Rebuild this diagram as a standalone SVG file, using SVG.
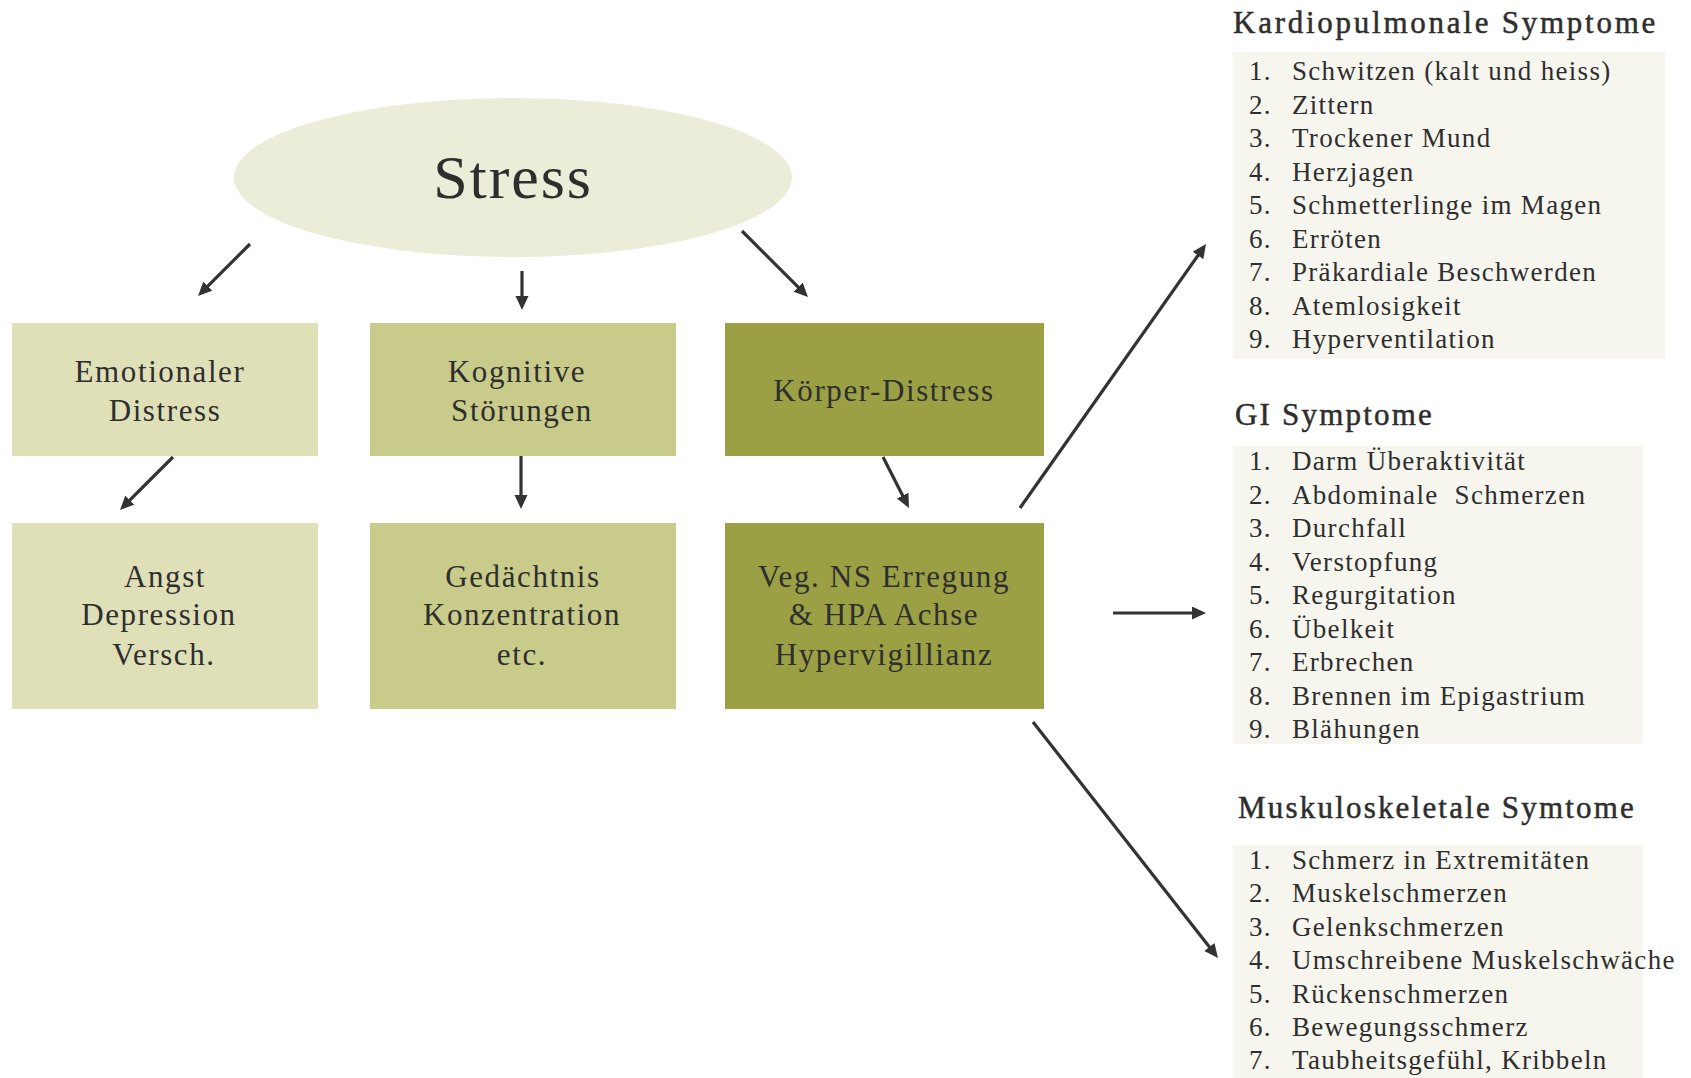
<svg xmlns="http://www.w3.org/2000/svg" width="1691" height="1078" viewBox="0 0 1691 1078">
<defs>
<style>
text{font-family:"Liberation Serif","Times New Roman",serif;fill:#2e2e2e}
.bx{font-size:31px;letter-spacing:1.6px;text-anchor:middle}
.ttl{font-size:31px;letter-spacing:2.2px;stroke:#2e2e2e;stroke-width:0.5px}
.it{font-size:27px;letter-spacing:1.3px}
.c1{fill:#dfe0b8}.c2{fill:#c9cb8a}.c3{fill:#9ba044}.lb{fill:#f6f6ee}
.ar{stroke:#333;stroke-width:3.2;fill:none;marker-end:url(#ah)}
</style>
<marker id="ah" markerUnits="userSpaceOnUse" markerWidth="16" markerHeight="14" refX="3" refY="6.5" orient="auto">
<path d="M0,0 L14,6.5 L0,13 Z" fill="#333"/>
</marker>
</defs>
<rect width="1691" height="1078" fill="#fff"/>
<g id="stress">
<ellipse cx="513" cy="177.5" rx="279" ry="79.5" fill="#ebedd8"/>
<text x="513" y="198" style="font-size:62px;letter-spacing:1.9px;text-anchor:middle">Stress</text>
</g>
<g id="emotionaler">
<rect class="c1" x="12" y="323" width="306" height="133"/>
<text class="bx" x="160" y="382">Emotionaler</text>
<text class="bx" x="165" y="421">Distress</text>
</g>
<g id="kognitive">
<rect class="c2" x="370" y="323" width="306" height="133"/>
<text class="bx" x="517" y="382">Kognitive</text>
<text class="bx" x="522" y="421">Störungen</text>
</g>
<g id="koerper">
<rect class="c3" x="725" y="323" width="319" height="133"/>
<text class="bx" x="884" y="401">Körper-Distress</text>
</g>
<g id="angst">
<rect class="c1" x="12" y="523" width="306" height="186"/>
<text class="bx" x="165" y="587">Angst</text>
<text class="bx" x="159" y="625">Depression</text>
<text class="bx" x="164" y="665">Versch.</text>
</g>
<g id="gedaechtnis">
<rect class="c2" x="370" y="523" width="306" height="186"/>
<text class="bx" x="523" y="587">Gedächtnis</text>
<text class="bx" x="522" y="625">Konzentration</text>
<text class="bx" x="522" y="665">etc.</text>
</g>
<g id="veg">
<rect class="c3" x="725" y="523" width="319" height="186"/>
<text class="bx" x="884" y="587">Veg. NS Erregung</text>
<text class="bx" x="884" y="625">&amp; HPA Achse</text>
<text class="bx" x="884" y="665">Hypervigillianz</text>
</g>
<g id="kardio">
<text class="ttl" x="1233" y="33" style="letter-spacing:2.75px">Kardiopulmonale Symptome</text>
<rect class="lb" x="1233" y="52" width="432" height="307"/>
<g class="it">
<text x="1249" y="80">1.</text><text x="1292" y="80">Schwitzen (kalt und heiss)</text>
<text x="1249" y="113.5">2.</text><text x="1292" y="113.5">Zittern</text>
<text x="1249" y="147">3.</text><text x="1292" y="147">Trockener Mund</text>
<text x="1249" y="180.5">4.</text><text x="1292" y="180.5">Herzjagen</text>
<text x="1249" y="214">5.</text><text x="1292" y="214">Schmetterlinge im Magen</text>
<text x="1249" y="247.5">6.</text><text x="1292" y="247.5">Erröten</text>
<text x="1249" y="281">7.</text><text x="1292" y="281">Präkardiale Beschwerden</text>
<text x="1249" y="314.5">8.</text><text x="1292" y="314.5">Atemlosigkeit</text>
<text x="1249" y="348">9.</text><text x="1292" y="348">Hyperventilation</text>
</g>
</g>
<g id="gi">
<text class="ttl" x="1235" y="425">GI Symptome</text>
<rect class="lb" x="1233" y="446" width="410" height="298"/>
<g class="it">
<text x="1249" y="470">1.</text><text x="1292" y="470">Darm Überaktivität</text>
<text x="1249" y="503.5">2.</text><text x="1292" y="503.5" xml:space="preserve">Abdominale  Schmerzen</text>
<text x="1249" y="537">3.</text><text x="1292" y="537">Durchfall</text>
<text x="1249" y="570.5">4.</text><text x="1292" y="570.5">Verstopfung</text>
<text x="1249" y="604">5.</text><text x="1292" y="604">Regurgitation</text>
<text x="1249" y="637.5">6.</text><text x="1292" y="637.5">Übelkeit</text>
<text x="1249" y="671">7.</text><text x="1292" y="671">Erbrechen</text>
<text x="1249" y="704.5">8.</text><text x="1292" y="704.5">Brennen im Epigastrium</text>
<text x="1249" y="738">9.</text><text x="1292" y="738">Blähungen</text>
</g>
</g>
<g id="musk">
<text class="ttl" x="1238" y="818">Muskuloskeletale Symtome</text>
<rect class="lb" x="1233" y="845" width="410" height="233"/>
<g class="it">
<text x="1249" y="869">1.</text><text x="1292" y="869">Schmerz in Extremitäten</text>
<text x="1249" y="902.4">2.</text><text x="1292" y="902.4">Muskelschmerzen</text>
<text x="1249" y="935.8">3.</text><text x="1292" y="935.8">Gelenkschmerzen</text>
<text x="1249" y="969.2">4.</text><text x="1292" y="969.2">Umschreibene Muskelschwäche</text>
<text x="1249" y="1002.6">5.</text><text x="1292" y="1002.6">Rückenschmerzen</text>
<text x="1249" y="1036">6.</text><text x="1292" y="1036">Bewegungsschmerz</text>
<text x="1249" y="1069.4">7.</text><text x="1292" y="1069.4">Taubheitsgefühl, Kribbeln</text>
</g>
</g>
<g id="connectors">
<path class="ar" d="M250,244 L205.8,288.2"/>
<path class="ar" d="M522,271 L522,299"/>
<path class="ar" d="M742,231 L800.2,289.2"/>
<path class="ar" d="M173,457 L127.8,502.2"/>
<path class="ar" d="M521,456 L521,498"/>
<path class="ar" d="M883,457 L904,498.2"/>
<path class="ar" d="M1020,508 L1199.7,253"/>
<path class="ar" d="M1113,613 L1195,613"/>
<path class="ar" d="M1033,722 L1211.2,949.3"/>
</g>
</svg>
